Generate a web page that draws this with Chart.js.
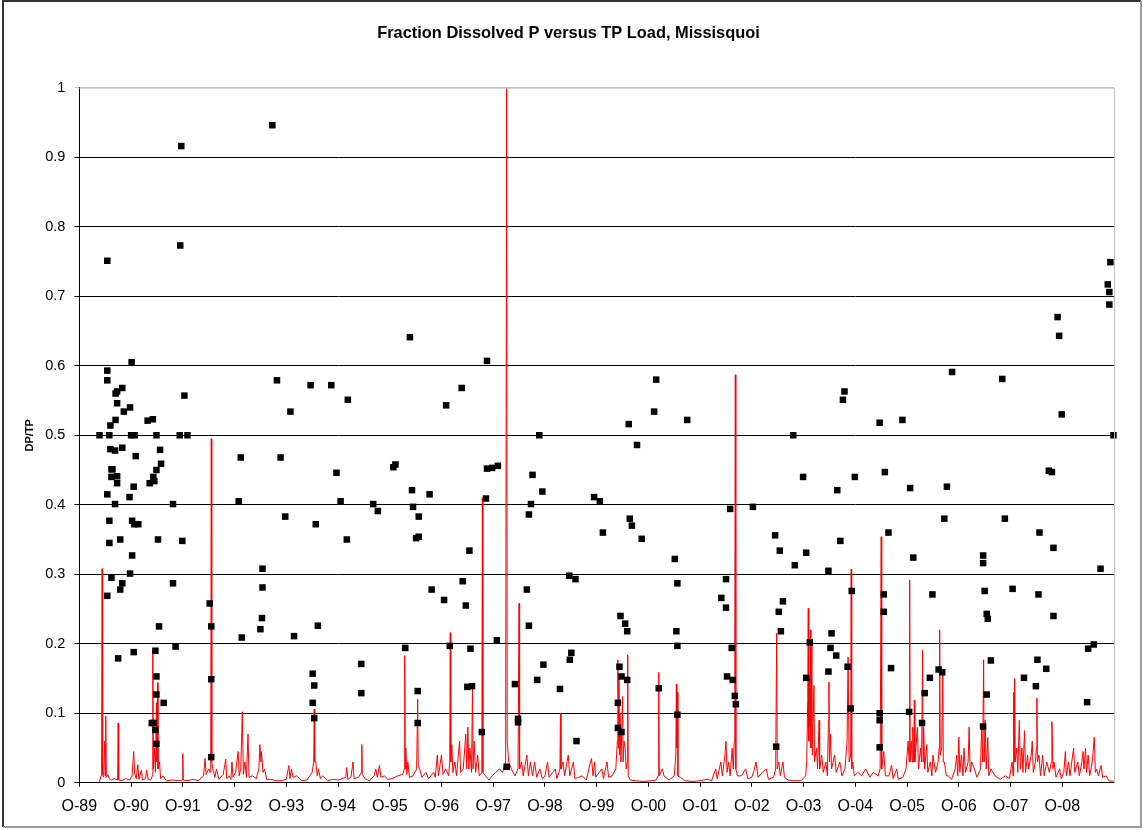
<!DOCTYPE html>
<html>
<head>
<meta charset="utf-8">
<title>Fraction Dissolved P versus TP Load, Missisquoi</title>
<script src="https://cdn.jsdelivr.net/npm/chart.js@4/dist/chart.umd.min.js"></script>
<style>
    html, body { margin: 0; padding: 0; background: #fff; }
    #wrap { width: 1143px; height: 830px; }
</style>
</head>
<body>
<div id="wrap"><canvas id="chart" width="1143" height="830"></canvas></div>
<script>
// x = years since 1 Oct 1989
const yearLabels = ['O-89', 'O-90', 'O-91', 'O-92', 'O-93', 'O-94', 'O-95', 'O-96', 'O-97', 'O-98',
    'O-99', 'O-00', 'O-01', 'O-02', 'O-03', 'O-04', 'O-05', 'O-06', 'O-07', 'O-08'];

// DP/TP samples [year, fraction]
const dpTpPoints = [
    [0.39,0.500],[0.54,0.751],[0.54,0.593],[0.54,0.579],[0.54,0.415],[0.54,0.269],[0.58,0.500],[0.58,0.377],
    [0.58,0.345],[0.60,0.514],[0.60,0.480],[0.62,0.451],[0.62,0.440],[0.62,0.295],[0.64,0.451],[0.69,0.478],
    [0.69,0.401],[0.70,0.560],[0.70,0.522],[0.73,0.563],[0.73,0.546],[0.73,0.441],[0.73,0.431],[0.75,0.179],
    [0.79,0.350],[0.79,0.278],[0.83,0.568],[0.83,0.482],[0.83,0.287],[0.86,0.534],[0.97,0.411],[0.98,0.540],
    [0.98,0.301],[1.00,0.500],[1.01,0.605],[1.02,0.377],[1.02,0.327],[1.05,0.426],[1.05,0.188],[1.06,0.372],
    [1.07,0.500],[1.09,0.470],[1.14,0.372],[1.32,0.521],[1.36,0.431],[1.40,0.086],[1.42,0.523],[1.43,0.440],
    [1.43,0.086],[1.45,0.434],[1.47,0.190],[1.47,0.076],[1.49,0.500],[1.49,0.450],[1.49,0.153],[1.49,0.127],
    [1.49,0.056],[1.52,0.350],[1.54,0.225],[1.56,0.479],[1.58,0.459],[1.63,0.115],[1.81,0.401],[1.81,0.287],
    [1.86,0.196],[1.94,0.500],[1.95,0.773],[1.97,0.916],[1.99,0.348],[2.03,0.557],[2.09,0.500],
    [2.52,0.258],[2.55,0.225],[2.55,0.149],[2.55,0.037],[3.08,0.405],[3.12,0.468],[3.14,0.209],[3.50,0.221],
    [3.53,0.237],[3.54,0.308],[3.54,0.281],[3.73,0.946],[3.82,0.579],[3.89,0.468],[3.98,0.383],[4.08,0.534],
    [4.15,0.211],[4.47,0.572],[4.51,0.157],[4.51,0.115],[4.54,0.140],[4.54,0.093],[4.57,0.372],[4.61,0.226],
    [4.87,0.572],[4.97,0.446],[5.05,0.405],[5.17,0.350],[5.19,0.551],[5.45,0.171],[5.45,0.129],[5.68,0.401],
    [5.77,0.391],[6.07,0.454],[6.11,0.458],[6.30,0.194],[6.39,0.641],[6.43,0.421],[6.45,0.397],[6.51,0.352],
    [6.54,0.132],[6.54,0.086],[6.56,0.383],[6.56,0.354],[6.77,0.415],[6.81,0.278],[7.05,0.263],[7.09,0.543],
    [7.16,0.197],[7.39,0.568],[7.41,0.290],[7.47,0.255],[7.50,0.138],[7.54,0.334],[7.56,0.193],[7.59,0.139],
    [7.78,0.073],[7.86,0.409],[7.88,0.607],[7.88,0.452],[7.98,0.453],[8.07,0.205],[8.09,0.456],[8.26,0.023],
    [8.42,0.142],[8.48,0.092],[8.48,0.087],[8.65,0.278],[8.69,0.386],[8.69,0.226],[8.73,0.401],[8.76,0.443],
    [8.85,0.148],[8.89,0.500],[8.95,0.419],[8.97,0.170],[9.29,0.135],[9.47,0.298],[9.48,0.177],[9.51,0.187],
    [9.59,0.293],[9.61,0.060],[9.95,0.411],[10.06,0.405],[10.12,0.360],[10.41,0.115],[10.41,0.079],[10.44,0.167],
    [10.46,0.240],[10.48,0.153],[10.48,0.073],[10.55,0.229],[10.59,0.218],[10.59,0.148],[10.62,0.516],[10.64,0.380],
    [10.68,0.370],[10.78,0.486],[10.87,0.351],[11.11,0.534],[11.15,0.580],[11.20,0.136],[11.51,0.322],[11.54,0.218],
    [11.56,0.287],[11.56,0.197],[11.56,0.098],[11.75,0.522],[12.41,0.266],[12.50,0.293],[12.50,0.252],[12.52,0.153],
    [12.58,0.394],[12.61,0.194],[12.63,0.148],[12.67,0.125],[12.69,0.113],[13.02,0.397],[13.45,0.356],[13.47,0.052],
    [13.52,0.246],[13.54,0.334],[13.56,0.218],[13.60,0.261],[13.80,0.500],[13.83,0.313],[13.99,0.440],[14.05,0.331],
    [14.05,0.151],[14.12,0.202],[14.48,0.305],[14.48,0.160],[14.52,0.194],[14.54,0.215],[14.63,0.183],[14.65,0.421],
    [14.71,0.348],[14.76,0.551],[14.79,0.563],[14.85,0.167],[14.91,0.107],[14.93,0.276],[14.99,0.440],[15.47,0.518],
    [15.47,0.100],[15.47,0.090],[15.47,0.051],[15.55,0.271],[15.55,0.246],[15.57,0.447],[15.64,0.360],[15.69,0.165],
    [15.91,0.522],[16.04,0.102],[16.06,0.424],[16.12,0.324],[16.29,0.086],[16.34,0.129],[16.44,0.151],[16.49,0.271],
    [16.61,0.163],[16.68,0.159],[16.72,0.380],[16.77,0.426],[16.87,0.591],[17.47,0.327],[17.47,0.316],[17.47,0.081],
    [17.50,0.276],[17.54,0.243],[17.54,0.127],[17.56,0.236],[17.62,0.176],[17.84,0.581],[17.89,0.380],[18.04,0.279],
    [18.26,0.151],[18.49,0.139],[18.52,0.177],[18.54,0.271],[18.56,0.360],[18.69,0.164],[18.74,0.449],[18.80,0.447],
    [18.83,0.338],[18.83,0.240],[18.91,0.670],[18.94,0.643],[18.99,0.530],[19.48,0.116],[19.50,0.193],[19.61,0.199],
    [19.74,0.308],[19.88,0.717],[19.91,0.706],[19.91,0.688],[19.93,0.749],[19.99,0.500]
];

// scaled TP load [year, value]
const tpLoad = [
    [0.38,0.000],[0.42,0.010],[0.43,0.015],[0.44,0.308],[0.45,0.012],[0.47,0.008],[0.49,0.060],[0.50,0.010],
    [0.51,0.096],[0.52,0.008],[0.55,0.012],[0.58,0.006],[0.62,0.004],[0.68,0.006],[0.74,0.004],[0.75,0.086],
    [0.76,0.004],[0.82,0.003],[0.90,0.006],[0.97,0.004],
    [1.02,0.010],[1.05,0.045],[1.07,0.012],[1.10,0.006],[1.13,0.026],[1.15,0.005],[1.20,0.018],[1.22,0.004],
    [1.28,0.006],[1.30,0.018],[1.33,0.005],[1.38,0.004],[1.41,0.010],[1.42,0.189],[1.43,0.020],[1.45,0.050],
    [1.47,0.015],[1.49,0.115],[1.50,0.030],[1.51,0.144],[1.52,0.020],[1.55,0.030],[1.57,0.006],[1.62,0.010],
    [1.68,0.003],[1.80,0.004],[1.92,0.003],[1.99,0.004],
    [2.00,0.042],[2.01,0.004],[2.10,0.003],[2.20,0.005],[2.30,0.003],[2.40,0.010],[2.43,0.035],[2.45,0.012],
    [2.50,0.020],[2.53,0.015],[2.54,0.030],[2.55,0.495],[2.56,0.030],[2.58,0.020],[2.62,0.008],[2.65,0.020],
    [2.70,0.005],[2.78,0.012],[2.83,0.034],[2.85,0.006],[2.90,0.010],[2.93,0.005],[2.95,0.030],[2.97,0.008],
    [3.02,0.015],[3.07,0.045],[3.09,0.010],[3.12,0.020],[3.15,0.102],[3.17,0.012],[3.20,0.030],[3.23,0.008],
    [3.26,0.070],[3.28,0.008],[3.35,0.010],[3.42,0.006],[3.47,0.020],[3.49,0.055],[3.51,0.030],[3.52,0.045],
    [3.55,0.015],[3.58,0.020],[3.62,0.005],[3.70,0.005],[3.80,0.003],[3.90,0.003],
    [4.00,0.005],[4.05,0.025],[4.07,0.006],[4.10,0.020],[4.13,0.008],[4.20,0.010],[4.30,0.003],[4.40,0.004],
    [4.50,0.015],[4.53,0.030],[4.54,0.106],[4.55,0.030],[4.57,0.030],[4.60,0.010],[4.62,0.020],[4.66,0.006],
    [4.70,0.010],[4.80,0.003],[4.90,0.005],
    [5.00,0.004],[5.08,0.006],[5.15,0.008],[5.17,0.022],[5.19,0.005],[5.25,0.008],[5.29,0.030],[5.31,0.006],
    [5.40,0.008],[5.45,0.015],[5.46,0.055],[5.47,0.012],[5.52,0.006],[5.60,0.003],[5.70,0.010],[5.73,0.020],
    [5.76,0.008],[5.80,0.025],[5.83,0.008],[5.90,0.010],[5.96,0.005],
    [6.05,0.006],[6.15,0.010],[6.25,0.012],[6.28,0.020],[6.29,0.183],[6.30,0.020],[6.31,0.050],[6.33,0.012],
    [6.35,0.030],[6.38,0.008],[6.45,0.010],[6.52,0.020],[6.54,0.120],[6.55,0.025],[6.58,0.020],[6.62,0.008],
    [6.70,0.015],[6.75,0.006],[6.85,0.015],[6.88,0.008],[6.92,0.040],[6.94,0.010],
    [7.00,0.040],[7.03,0.012],[7.08,0.020],[7.14,0.010],[7.16,0.030],[7.17,0.216],[7.18,0.030],[7.20,0.055],
    [7.22,0.015],[7.26,0.030],[7.29,0.010],[7.35,0.060],[7.37,0.015],[7.42,0.020],[7.47,0.070],[7.49,0.020],
    [7.51,0.080],[7.53,0.020],[7.55,0.050],[7.58,0.015],[7.60,0.139],[7.61,0.020],[7.63,0.060],[7.66,0.015],
    [7.70,0.040],[7.73,0.010],[7.78,0.015],[7.79,0.410],[7.80,0.015],[7.85,0.010],[7.92,0.004],
    [7.98,0.010],[8.05,0.015],[8.12,0.020],[8.18,0.015],[8.24,0.030],[8.26,1.000],[8.27,0.060],[8.30,0.030],
    [8.35,0.020],[8.42,0.010],[8.48,0.020],[8.50,0.258],[8.51,0.020],[8.55,0.030],[8.58,0.010],[8.65,0.040],
    [8.68,0.010],[8.72,0.030],[8.76,0.010],[8.80,0.030],[8.84,0.008],[8.90,0.020],[8.95,0.006],
    [9.00,0.010],[9.05,0.030],[9.08,0.008],[9.15,0.015],[9.20,0.020],[9.23,0.006],[9.29,0.020],[9.30,0.100],
    [9.31,0.020],[9.35,0.030],[9.38,0.010],[9.45,0.040],[9.48,0.010],[9.55,0.030],[9.58,0.006],[9.65,0.008],
    [9.72,0.010],[9.80,0.004],[9.88,0.030],[9.90,0.035],[9.93,0.010],[9.96,0.030],[9.98,0.008],
    [10.05,0.015],[10.10,0.020],[10.13,0.006],[10.20,0.030],[10.23,0.008],[10.30,0.010],[10.37,0.020],[10.40,0.060],
    [10.41,0.177],[10.42,0.050],[10.43,0.150],[10.44,0.040],[10.45,0.100],[10.47,0.030],[10.50,0.124],[10.51,0.030],
    [10.53,0.060],[10.55,0.050],[10.57,0.020],[10.59,0.030],[10.60,0.184],[10.61,0.010],[10.65,0.004],[10.75,0.003],
    [10.90,0.002],[11.05,0.003],[11.15,0.004],
    [11.19,0.010],[11.20,0.159],[11.21,0.010],[11.27,0.020],[11.30,0.010],[11.40,0.004],[11.50,0.010],[11.53,0.040],
    [11.54,0.142],[11.55,0.050],[11.56,0.130],[11.57,0.010],[11.62,0.008],[11.70,0.003],[11.85,0.002],[12.00,0.003],
    [12.15,0.005],[12.22,0.003],
    [12.30,0.020],[12.33,0.006],[12.40,0.030],[12.43,0.010],[12.48,0.040],[12.50,0.060],[12.52,0.015],[12.55,0.030],
    [12.58,0.010],[12.62,0.050],[12.64,0.020],[12.66,0.060],[12.67,0.209],[12.68,0.587],[12.69,0.020],[12.72,0.010],
    [12.80,0.010],[12.88,0.020],[12.92,0.006],[13.00,0.008],[13.05,0.020],[13.08,0.030],[13.12,0.008],[13.20,0.015],
    [13.28,0.020],[13.32,0.005],[13.42,0.008],
    [13.46,0.020],[13.48,0.215],[13.49,0.020],[13.52,0.030],[13.55,0.010],[13.60,0.030],[13.63,0.008],[13.70,0.004],
    [13.80,0.003],[13.95,0.003],[14.04,0.010],
    [14.06,0.030],[14.08,0.120],[14.09,0.251],[14.10,0.060],[14.11,0.150],[14.12,0.080],[14.13,0.220],[14.14,0.050],
    [14.16,0.200],[14.17,0.040],[14.20,0.140],[14.21,0.030],[14.25,0.050],[14.27,0.020],[14.30,0.090],[14.31,0.020],
    [14.35,0.040],[14.38,0.015],[14.43,0.030],[14.46,0.010],[14.48,0.090],[14.49,0.145],[14.50,0.030],[14.52,0.070],
    [14.54,0.020],[14.60,0.040],[14.63,0.015],[14.70,0.030],[14.74,0.010],[14.80,0.020],[14.84,0.060],[14.86,0.181],
    [14.88,0.030],[14.91,0.040],[14.92,0.307],[14.93,0.020],[14.95,0.030],[14.98,0.010],
    [15.05,0.015],[15.12,0.010],[15.20,0.020],[15.28,0.008],[15.35,0.015],[15.44,0.010],[15.48,0.020],[15.50,0.354],
    [15.51,0.020],[15.55,0.045],[15.58,0.010],[15.65,0.010],[15.70,0.025],[15.73,0.006],[15.80,0.020],[15.83,0.005],
    [15.92,0.008],[15.98,0.020],[16.02,0.060],[16.04,0.030],[16.05,0.292],[16.06,0.030],[16.08,0.060],[16.10,0.030],
    [16.11,0.080],[16.13,0.030],[16.14,0.119],[16.15,0.030],[16.20,0.080],[16.22,0.020],[16.26,0.050],[16.28,0.030],
    [16.30,0.191],[16.31,0.030],[16.32,0.080],[16.34,0.020],[16.38,0.055],[16.40,0.015],[16.45,0.030],[16.48,0.010],
    [16.50,0.040],[16.55,0.015],[16.60,0.030],[16.62,0.050],[16.63,0.220],[16.64,0.040],[16.67,0.050],[16.69,0.160],
    [16.70,0.030],[16.72,0.030],[16.76,0.010],[16.80,0.010],[16.86,0.005],
    [16.93,0.020],[16.96,0.040],[16.98,0.010],[17.00,0.066],[17.02,0.015],[17.05,0.040],[17.08,0.010],[17.10,0.050],
    [17.13,0.015],[17.18,0.030],[17.20,0.080],[17.22,0.015],[17.25,0.030],[17.30,0.020],[17.35,0.008],[17.42,0.020],
    [17.44,0.081],[17.46,0.030],[17.48,0.177],[17.49,0.030],[17.51,0.090],[17.53,0.020],[17.56,0.065],[17.58,0.010],
    [17.62,0.020],[17.70,0.010],[17.80,0.005],[17.90,0.010],[17.98,0.006],
    [18.03,0.030],[18.05,0.010],[18.06,0.130],[18.07,0.030],[18.08,0.150],[18.09,0.030],[18.12,0.050],[18.14,0.015],
    [18.17,0.090],[18.19,0.020],[18.22,0.050],[18.24,0.015],[18.27,0.075],[18.29,0.015],[18.33,0.040],[18.35,0.020],
    [18.40,0.040],[18.42,0.060],[18.44,0.015],[18.48,0.030],[18.50,0.050],[18.51,0.122],[18.52,0.030],[18.55,0.040],
    [18.58,0.010],[18.62,0.040],[18.65,0.010],[18.70,0.030],[18.75,0.015],[18.79,0.030],[18.80,0.088],[18.82,0.020],
    [18.84,0.030],[18.88,0.008],[18.95,0.020],[18.98,0.006],
    [19.03,0.015],[19.06,0.045],[19.08,0.010],[19.12,0.030],[19.15,0.010],[19.20,0.040],[19.22,0.050],[19.24,0.015],
    [19.30,0.030],[19.33,0.010],[19.38,0.030],[19.40,0.045],[19.42,0.020],[19.45,0.050],[19.47,0.015],[19.50,0.040],
    [19.53,0.010],[19.58,0.030],[19.62,0.066],[19.64,0.015],[19.66,0.020],[19.70,0.010],[19.75,0.025],[19.78,0.008],
    [19.85,0.010],[19.90,0.003],[19.99,0.002]
];

const FONT = 'Arial, "Liberation Sans", sans-serif';

// plot area right edge + top, and the outer chart frame
const framePlugin = {
    id: 'frame',
    afterDraw(chart) {
        const { ctx, chartArea, width, height } = chart;
        ctx.save();
        ctx.lineWidth = 1;
        ctx.strokeStyle = '#c0c0c0';
        ctx.beginPath();
        ctx.moveTo(chartArea.left, chartArea.top + 0.5);
        ctx.lineTo(chartArea.right + 0.5, chartArea.top + 0.5);
        ctx.lineTo(chartArea.right + 0.5, chartArea.bottom);
        ctx.stroke();

        ctx.lineWidth = 2;
        ctx.strokeStyle = '#333';
        ctx.beginPath();
        ctx.moveTo(3, height - 3);
        ctx.lineTo(3, 1);
        ctx.lineTo(width - 2, 1);
        ctx.stroke();
        ctx.strokeStyle = '#9a9a9a';
        ctx.beginPath();
        ctx.moveTo(width - 2, 1);
        ctx.lineTo(width - 2, height - 3);
        ctx.lineTo(3, height - 3);
        ctx.stroke();
        ctx.restore();
    }
};

new Chart(document.getElementById('chart'), {
    type: 'scatter',
    data: {
        datasets: [
            {
                label: 'DP/TP',
                data: dpTpPoints.map(p => ({ x: p[0], y: p[1] })),
                pointStyle: 'rect',
                pointRadius: 4.6,
                pointBorderWidth: 0,
                backgroundColor: '#000',
                borderColor: '#000',
                clip: false,
                order: 0
            },
            {
                label: 'TP Load',
                data: tpLoad.map(p => ({ x: p[0], y: p[1] })),
                showLine: true,
                borderColor: '#ff0000',
                borderWidth: 1,
                pointRadius: 0,
                tension: 0,
                order: 1
            }
        ]
    },
    options: {
        responsive: false,
        animation: false,
        layout: {
            padding: { left: 23, right: 29, top: 0, bottom: 4 }
        },
        plugins: {
            legend: { display: false },
            tooltip: { enabled: false },
            title: {
                display: true,
                text: 'Fraction Dissolved P versus TP Load, Missisquoi',
                color: '#000',
                font: { family: FONT, size: 16.4, weight: 'bold' },
                padding: { top: 24, bottom: 44 }
            }
        },
        scales: {
            x: {
                type: 'linear',
                min: 0,
                max: 20,
                afterBuildTicks: (axis) => {
                    axis.ticks = yearLabels.map((_, i) => ({ value: i }));
                },
                ticks: {
                    autoSkip: false,
                    maxRotation: 0,
                    color: '#000',
                    padding: 10,
                    font: { family: FONT, size: 16 },
                    callback: (v) => yearLabels[Math.round(v)]
                },
                grid: {
                    drawOnChartArea: false,
                    color: '#000',
                    tickLength: 4
                },
                border: { color: '#000', width: 1 }
            },
            y: {
                min: 0,
                max: 1,
                ticks: {
                    stepSize: 0.1,
                    color: '#000',
                    padding: 9,
                    font: { family: FONT, size: 14.5 },
                    callback: (v) => String(Math.round(v * 10) / 10)
                },
                grid: {
                    color: (c) => (c.tick && c.tick.value > 0.99 ? '#c0c0c0' : '#000'),
                    tickLength: 5
                },
                border: { color: '#000', width: 1 },
                title: {
                    display: true,
                    text: 'DP/TP',
                    color: '#000',
                    font: { family: FONT, size: 11, weight: 'bold' },
                    padding: { top: 0, bottom: 0 }
                }
            }
        }
    },
    plugins: [framePlugin]
});
</script>
</body>
</html>
